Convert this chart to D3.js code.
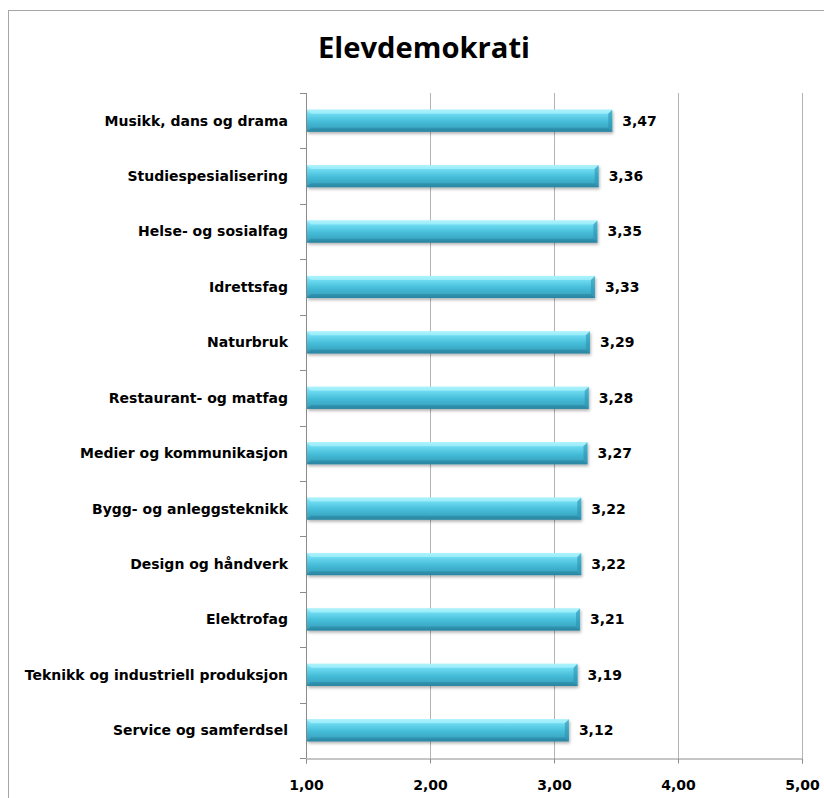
<!DOCTYPE html>
<html><head><meta charset="utf-8">
<script src="https://cdn.jsdelivr.net/npm/d3@7"></script>
<style>body{margin:0;background:#fff}</style>
</head><body>
<script>
const categories = ["Musikk, dans og drama","Studiespesialisering","Helse- og sosialfag","Idrettsfag","Naturbruk","Restaurant- og matfag","Medier og kommunikasjon","Bygg- og anleggsteknikk","Design og håndverk","Elektrofag","Teknikk og industriell produksjon","Service og samferdsel"];
const values = [3.47,3.36,3.35,3.33,3.29,3.28,3.27,3.22,3.22,3.21,3.19,3.12];
const xTicks = [1,2,3,4,5];
const title = "Elevdemokrati";

const W = 824, H = 798;
const m = {left:306, right:22, top:93, bottom:40};
const svg = d3.select("body").append("svg").attr("width",W).attr("height",H);
const fmt = v => d3.format(".2f")(v).replace(".", ",");
const FONT = "'DejaVu Sans',Verdana,sans-serif";

const defs = svg.append("defs");
const g1 = defs.append("linearGradient").attr("id","barg").attr("x1",0).attr("y1",0).attr("x2",0).attr("y2",1);
[[0,"#9ff0fb"],[0.18,"#6fdcf2"],[0.55,"#45bcd8"],[0.85,"#3aa6c2"],[1,"#2d8aa6"]].forEach(([o,c])=>g1.append("stop").attr("offset",o).attr("stop-color",c));
const f = defs.append("filter").attr("id","sh").attr("x","-5%").attr("y","-30%").attr("width","115%").attr("height","180%");
f.append("feDropShadow").attr("dx",1).attr("dy",2).attr("stdDeviation",1.5).attr("flood-color","#000").attr("flood-opacity",0.3);

// chart border
svg.append("rect").attr("x",8.5).attr("y",10.5).attr("width",W).attr("height",H).attr("fill","none").attr("stroke","#a6a6a6");

svg.append("text").attr("x",424).attr("y",58).attr("text-anchor","middle")
  .attr("textLength",212).attr("lengthAdjust","spacingAndGlyphs")
  .style("font-family","'Open Sans',Lato,sans-serif").style("font-weight","bold").style("font-size","28px").text(title);

const x = d3.scaleLinear().domain([1,5]).range([m.left, W-m.right]);
const y = d3.scaleBand().domain(categories).range([m.top, H-m.bottom]).paddingInner(0.6).paddingOuter(0.3);
const yb = H-m.bottom;

// gridlines
svg.append("g").selectAll("line").data(xTicks.slice(1)).join("line")
  .attr("x1",d=>Math.round(x(d))+0.5).attr("x2",d=>Math.round(x(d))+0.5)
  .attr("y1",m.top).attr("y2",yb).attr("stroke","#b3b3b3");

// bottom axis
const xa = svg.append("g").attr("transform",`translate(0,${yb+0.5})`)
  .call(d3.axisBottom(x).tickValues(xTicks).tickFormat(fmt).tickSize(5).tickPadding(17));
xa.select(".domain").attr("stroke","#8c8c8c");
xa.selectAll(".tick line").attr("stroke","#8c8c8c");
xa.selectAll("text").style("font-family",FONT).style("font-weight","bold").style("font-size","14px").attr("fill","#000");

// left axis
svg.append("line").attr("x1",m.left+0.5).attr("x2",m.left+0.5).attr("y1",m.top).attr("y2",yb).attr("stroke","#8c8c8c");
const bounds = d3.range(categories.length+1).map(i=>m.top + i*(yb-m.top)/categories.length);
svg.append("g").selectAll("line").data(bounds).join("line")
  .attr("x1",m.left-6).attr("x2",m.left).attr("y1",d=>Math.round(d)+0.5).attr("y2",d=>Math.round(d)+0.5).attr("stroke","#8c8c8c");

// category labels
svg.append("g").selectAll("text").data(categories).join("text")
  .attr("x",m.left-18).attr("y",d=>y(d)+y.bandwidth()/2).attr("dy","0.35em").attr("text-anchor","end")
  .style("font-family",FONT).style("font-weight","bold").style("font-size","14px").text(d=>d);

// bars
const bars = svg.append("g").selectAll("g").data(categories.map((c,i)=>({c,v:values[i]}))).join("g");
bars.append("rect").attr("x",x(1)+1).attr("y",d=>y(d.c)).attr("width",d=>x(d.v)-x(1)-1).attr("height",y.bandwidth())
  .attr("fill","url(#barg)").attr("filter","url(#sh)");
bars.append("path").attr("d",d=>{const x0=x(1)+1,x1=x(d.v),t=y(d.c),e=4;
  return `M${x0},${t}L${x1},${t}L${x1-e},${t+e}L${x0+e},${t+e}Z`;}).attr("fill","#b5f5fd").attr("opacity",0.6);
bars.append("path").attr("d",d=>{const x0=x(1)+1,x1=x(d.v),b=y(d.c)+y.bandwidth(),e=4;
  return `M${x0},${b}L${x1},${b}L${x1-e},${b-e}L${x0+e},${b-e}Z`;}).attr("fill","#26809b").attr("opacity",0.5);
bars.append("path").attr("d",d=>{const x1=x(d.v),t=y(d.c),b=t+y.bandwidth(),e=4;
  return `M${x1},${t}L${x1},${b}L${x1-e},${b-e}L${x1-e},${t+e}Z`;}).attr("fill","#2f93b0").attr("opacity",0.6);

// value labels
bars.append("text").attr("x",d=>x(d.v)+10).attr("y",d=>y(d.c)+y.bandwidth()/2).attr("dy","0.35em")
  .style("font-family",FONT).style("font-weight","bold").style("font-size","14px").text(d=>fmt(d.v));
</script>
</body></html>
